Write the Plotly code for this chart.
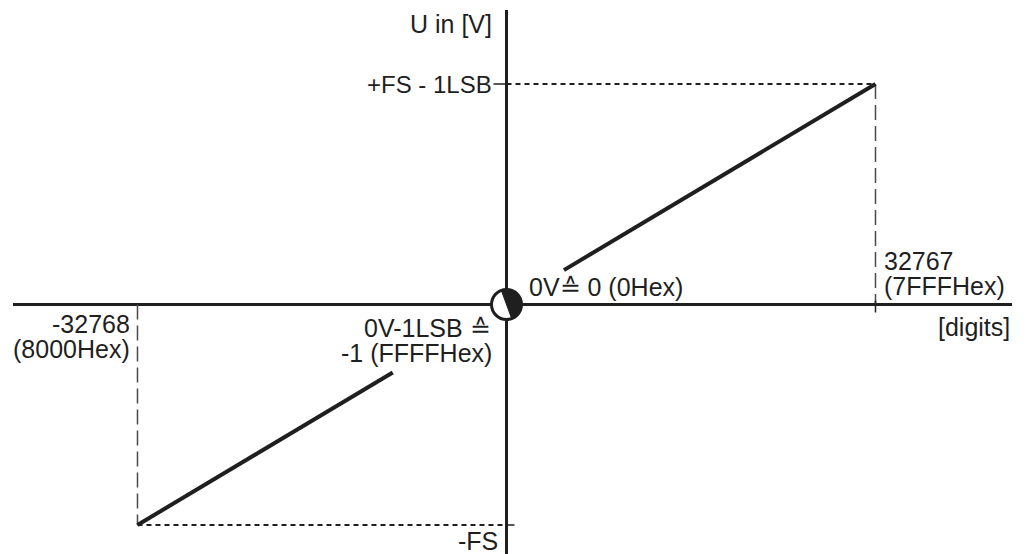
import numpy as np
import plotly.graph_objects as go

# Transfer characteristic of a 16-bit bipolar converter (digits -> voltage, in FS units)
FS = 1.0
CODE_MIN = -32768
CODE_MAX = 32767

# Drawn segments of the characteristic
upper_x = [5100, 32767]
upper_y = [0.156, 1.0]
lower_x = [-32768, -10100]
lower_y = [-1.0, -0.308]

# Axis labels and code / voltage annotations
y_title = "U in [V]"
x_title = "[digits]"
y_top_label = "+FS - 1LSB"
y_bottom_label = "-FS"
x_max_labels = ["32767", "(7FFFHex)"]
x_min_labels = ["-32768", "(8000Hex)"]
zero_label = "0V\u2259 0 (0Hex)"
minus_one_labels = ["0V-1LSB \u2259", "-1 (FFFFHex)"]

W, H = 1030, 554
L, R, T, B = 13, 1012, 10, 554          # plot area in pixels
OX, OY = 506.5, 304.5                    # pixel position of the origin
kx = (875 - 137) / (CODE_MAX - CODE_MIN)  # px per digit
ky = (525 - 84) / (2 * FS)                # px per FS

x_range = [-(OX - L) / kx, (R - OX) / kx]
y_range = [-(B - OY) / ky, (OY - T) / ky]

INK = "#1f1f1f"
FAMILY = "Liberation Sans, Arial, sans-serif"
FONT = dict(family=FAMILY, size=25, color=INK)

fig = go.Figure()

# guide lines
fig.add_trace(go.Scatter(x=[0, CODE_MAX], y=[FS, FS], mode="lines",
                         line=dict(color=INK, width=2, dash="5px,4px"), hoverinfo="skip"))
fig.add_trace(go.Scatter(x=[CODE_MIN, 0], y=[-FS, -FS], mode="lines",
                         line=dict(color=INK, width=2, dash="5px,4px"), hoverinfo="skip"))
fig.add_trace(go.Scatter(x=[CODE_MAX, CODE_MAX], y=[FS, 0], mode="lines",
                         line=dict(color="#4a4a4a", width=1.5, dash="15px,6px"), hoverinfo="skip"))
fig.add_trace(go.Scatter(x=[CODE_MIN, CODE_MIN], y=[0, -FS], mode="lines",
                         line=dict(color="#4a4a4a", width=1.5, dash="15px,6px"), hoverinfo="skip"))

# characteristic
for xs, ys in ((upper_x, upper_y), (lower_x, lower_y)):
    fig.add_trace(go.Scatter(x=xs, y=ys, mode="lines",
                             line=dict(color=INK, width=4), hoverinfo="skip"))

shapes = []
# small tick marks
shapes.append(dict(type="line", xref="x", yref="y", xsizemode="pixel", xanchor=0,
                   x0=-13, x1=3, y0=FS, y1=FS, line=dict(color=INK, width=1.5)))
shapes.append(dict(type="line", xref="x", yref="y", xsizemode="pixel", xanchor=0,
                   x0=0, x1=8, y0=-FS, y1=-FS, line=dict(color=INK, width=1.5)))
shapes.append(dict(type="line", xref="x", yref="y", ysizemode="pixel", yanchor=0,
                   x0=CODE_MAX, x1=CODE_MAX, y0=4, y1=-8, line=dict(color=INK, width=1.5)))

# half-filled origin marker
r = 15
shapes.append(dict(type="circle", xref="x", yref="y", xsizemode="pixel", ysizemode="pixel",
                   xanchor=0, yanchor=0, x0=-r, x1=r, y0=-r, y1=r,
                   fillcolor="white", line=dict(width=0)))
th = np.radians(np.linspace(-70, 110, 40))
pts = " L ".join(f"{r*np.cos(t):.2f},{r*np.sin(t):.2f}" for t in th)
shapes.append(dict(type="path", xref="x", yref="y", xsizemode="pixel", ysizemode="pixel",
                   xanchor=0, yanchor=0, path=f"M {pts} Z",
                   fillcolor=INK, line=dict(color=INK, width=1)))
shapes.append(dict(type="circle", xref="x", yref="y", xsizemode="pixel", ysizemode="pixel",
                   xanchor=0, yanchor=0, x0=-r, x1=r, y0=-r, y1=r,
                   line=dict(color=INK, width=3)))


def note(text, x, y, xanchor, dx, dy, xref="x", size=25):
    return dict(text=text, x=x, y=y, xref=xref, yref="y", xanchor=xanchor, yanchor="middle",
                xshift=dx, yshift=dy, showarrow=False,
                font=dict(FONT, size=size))


annotations = [
    note(y_title, 0, FS, "right", -13, 60),
    note(y_top_label, 0, FS, "right", -13, 0, size=24),
    note(y_bottom_label, 0, -FS, "right", -7, -16),
    note(x_max_labels[0], CODE_MAX, 0, "left", 7, 43.5),
    note(x_max_labels[1], CODE_MAX, 0, "left", 7, 19),
    note(x_title, 1, 0, "right", 0, -22, xref="paper"),
    note(x_min_labels[0], CODE_MIN, 0, "right", -5, -19),
    note(x_min_labels[1], CODE_MIN, 0, "right", -5, -44),
    note(minus_one_labels[0], 0, 0, "right", -14, -23.5),
    note(minus_one_labels[1], 0, 0, "right", -13, -48),
    note(zero_label, 0, 0, "left", 20, 18),
]

fig.update_layout(
    width=W, height=H,
    margin=dict(l=L, r=W - R, t=T, b=H - B),
    paper_bgcolor="white", plot_bgcolor="white",
    showlegend=False,
    shapes=shapes,
    annotations=annotations,
    xaxis=dict(range=x_range, showgrid=False, showticklabels=False, ticks="",
               zeroline=True, zerolinecolor=INK, zerolinewidth=3, fixedrange=True),
    yaxis=dict(range=y_range, showgrid=False, showticklabels=False, ticks="",
               zeroline=True, zerolinecolor=INK, zerolinewidth=3, fixedrange=True),
)

fig.write_html("out.html", config={"displayModeBar": False})
